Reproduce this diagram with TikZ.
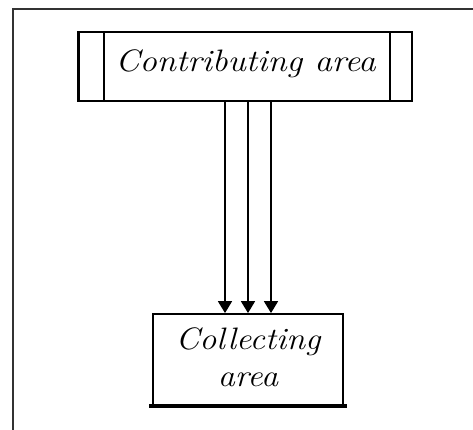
\documentclass[tikz,border=0pt]{standalone}
\usetikzlibrary{arrows.meta}
\tikzset{
  box/.style={draw=black, line width=1.8pt, inner sep=0pt},
  lbl/.style={font=\fontsize{31}{37}\selectfont\itshape, align=center},
  flow/.style={draw=black, line width=1.7pt, -{Triangle[length=12pt,width=14pt]}},
  thick edge/.style={draw=black, line width=3.2pt},
  frame/.style={draw=black!80, line width=2.4pt}
}
\begin{document}
\begin{tikzpicture}[x=1pt,y=-1pt]
\useasboundingbox[fill=white] (0,0) rectangle (473,430);
% outer frame
\draw[frame] (13,431) -- (13,9) -- (474,9);
% contributing area
\node[box, minimum width=333pt, minimum height=69pt] (top) at (245.5,66.5) {};
\node[lbl] (toplbl) at (245.5,64) {\scalebox{1.12}[1]{Contributing area}};
\draw[box] (top.north west) ++(26,0) coordinate (tl1) -- (tl1 |- top.south);
\draw[box] (top.north east) ++(-23,0) coordinate (tr1) -- (tr1 |- top.south);
\draw[thick edge] (top.north west) -- (top.south west);
% collecting area
\node[box, minimum width=190pt, minimum height=91pt] (bot) at (248,359.5) {};
\node[lbl] (botlbl) at (248,357) {\scalebox{1.1}[1]{Collecting}\\\scalebox{1.1}[1]{area}};
\draw[thick edge] ([xshift=-3pt]bot.south west) -- ([xshift=3pt]bot.south east);
% flows
\foreach \x/\n in {225/a,248/b,271/c}{
  \coordinate (s\n) at (\x,101);
  \coordinate (e\n) at (\x,314);
  \draw[flow] (s\n |- top.south) -- (e\n |- bot.north);
}
\end{tikzpicture}
\end{document}
